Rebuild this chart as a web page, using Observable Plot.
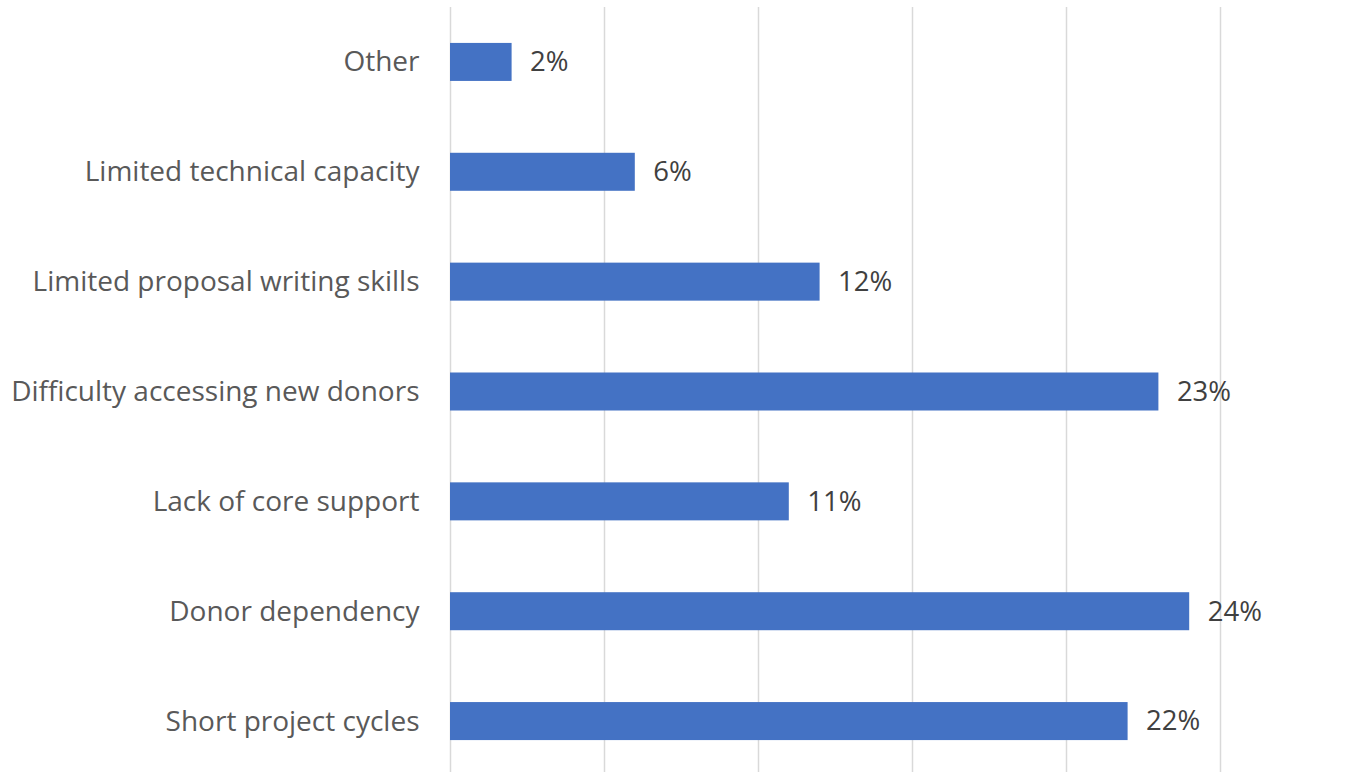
<!DOCTYPE html>
<html>
<head>
<meta charset="utf-8">
<script src="https://cdn.jsdelivr.net/npm/d3@7"></script>
<script src="https://cdn.jsdelivr.net/npm/@observablehq/plot@0.6"></script>
<style>
  html, body { margin: 0; padding: 0; background: #fff; }
  #chart svg { display: block; }
</style>
</head>
<body>
<div id="chart"></div>
<script>
const categories = [
  "Other",
  "Limited technical capacity",
  "Limited proposal writing skills",
  "Difficulty accessing new donors",
  "Lack of core support",
  "Donor dependency",
  "Short project cycles"
];
const values = [2, 6, 12, 23, 11, 24, 22];
const gridTicks = [0, 5, 10, 15, 20, 25];

const data = categories.map((c, i) => ({category: c, value: values[i]}));
const FONT = "'Open Sans', Lato, sans-serif";

const chart = Plot.plot({
  width: 1359,
  height: 772,
  marginLeft: 450,
  marginRight: 139,
  marginTop: 7,
  marginBottom: 0,
  style: {fontFamily: FONT, background: "#fff"},
  x: {domain: [0, 25], axis: null},
  y: {domain: categories, range: [7, 776], paddingInner: 0.654, paddingOuter: 0.327, round: false, axis: null},
  marks: [
    Plot.ruleX(gridTicks, {stroke: "#d9d9d9", strokeWidth: 1.5}),
    Plot.barX(data, {x: "value", y: "category", fill: "#4472c4"}),
    Plot.text(data, {x: 0, y: "category", text: "category", textAnchor: "end", dx: -31, fontSize: 28, fill: "#595959"}),
    Plot.text(data, {x: "value", y: "category", text: d => d.value + "%", textAnchor: "start", dx: 18, fontSize: 27.5, fill: "#404040"})
  ]
});
document.getElementById("chart").appendChild(chart);
</script>
</body>
</html>
